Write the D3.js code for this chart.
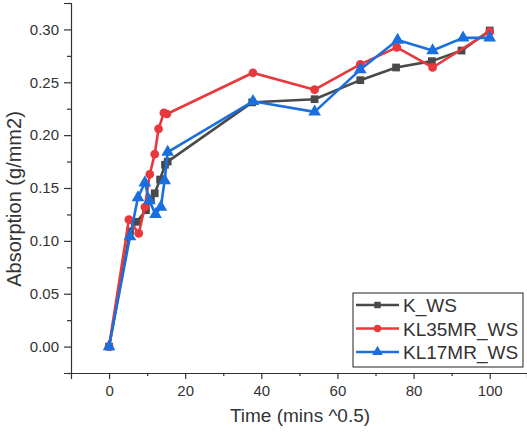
<!DOCTYPE html>
<html>
<head>
<meta charset="utf-8">
<script src="https://cdn.jsdelivr.net/npm/d3@7"></script>
<style>
  body { margin: 0; background: #fff; }
  svg text { font-family: "Liberation Sans", Arial, sans-serif; fill: #333; }
</style>
</head>
<body>
<svg id="chart" width="527" height="432"></svg>
<script>
// values
const kwsTime = [0, 5.5, 7.3, 9.7, 11, 12, 13.4, 14.7, 15.4, 37.6, 54, 66, 75.4, 84.8, 92.6, 100];
const kwsAbs = [0, 0.109, 0.118, 0.129, 0.139, 0.145, 0.158, 0.172, 0.175, 0.231, 0.234, 0.252, 0.264, 0.270, 0.280, 0.299];

const kl35Time = [0, 5.2, 7.8, 9.4, 10.7, 12, 13, 14.4, 15.2, 37.8, 54, 66, 75.6, 85, 100];
const kl35Abs = [0, 0.120, 0.107, 0.132, 0.163, 0.182, 0.206, 0.221, 0.220, 0.259, 0.243, 0.267, 0.283, 0.264, 0.298];

const kl17Time = [0, 5.5, 7.6, 9.4, 10.6, 12.2, 13.6, 14.6, 15.4, 37.8, 54, 66, 75.8, 85, 93, 100];
const kl17Abs = [0, 0.104, 0.141, 0.155, 0.138, 0.125, 0.132, 0.157, 0.184, 0.232, 0.222, 0.262, 0.290, 0.280, 0.292, 0.292];

const seriesNames = ["K_WS", "KL35MR_WS", "KL17MR_WS"];
const seriesColors = ["#4a4a4a", "#e8383d", "#1a6fdf"];
const seriesShapes = [d3.symbolSquare, d3.symbolCircle, d3.symbolTriangle];
const seriesSizes = [60, 60, 70];

const xTicks = [0, 20, 40, 60, 80, 100];
const yTicks = [0, 0.05, 0.10, 0.15, 0.20, 0.25, 0.30];

const svg = d3.select("#chart");
const plotLeft = 71, plotRight = 527, plotTop = 3, plotBottom = 373;

const x = d3.scaleLinear().domain([-10, 109.8]).range([plotLeft, plotRight]);
const y = d3.scaleLinear().domain([-0.025, 0.325]).range([plotBottom, plotTop]);

const series = [
  kwsTime.map((t, i) => ({ t, v: kwsAbs[i] })),
  kl35Time.map((t, i) => ({ t, v: kl35Abs[i] })),
  kl17Time.map((t, i) => ({ t, v: kl17Abs[i] })),
];

// axes
svg.append("g").attr("transform", `translate(0,${plotBottom})`)
  .call(d3.axisBottom(x).tickValues(xTicks).tickFormat(d3.format("d")).tickSize(6).tickPadding(6));
svg.append("g").attr("transform", `translate(0,${plotBottom})`)
  .call(d3.axisBottom(x).tickValues(d3.range(10, 110, 20)).tickFormat("").tickSize(3))
  .select(".domain").remove();

svg.append("g").attr("transform", `translate(${plotLeft},0)`)
  .call(d3.axisLeft(y).tickValues(yTicks).tickFormat(d3.format(".2f")).tickSize(7).tickPadding(5));
svg.append("g").attr("transform", `translate(${plotLeft},0)`)
  .call(d3.axisLeft(y).tickValues(d3.range(-0.025, 0.33, 0.05)).tickFormat("").tickSize(4))
  .select(".domain").remove();

svg.selectAll(".domain, .tick line").attr("stroke", "#333").attr("stroke-width", 1.2);
svg.selectAll(".tick text").attr("font-size", 15).attr("fill", "#333");

svg.append("text")
  .attr("x", (plotLeft + plotRight) / 2 + 1).attr("y", 422)
  .attr("text-anchor", "middle").attr("font-size", 19)
  .text("Time (mins ^0.5)");

svg.append("text")
  .attr("transform", `translate(21,${(plotTop + plotBottom) / 2 + 11}) rotate(-90)`)
  .attr("text-anchor", "middle").attr("font-size", 20)
  .text("Absorption (g/mm2)");

// lines and markers
const line = d3.line().x((d) => x(d.t)).y((d) => y(d.v));

series.forEach((data, k) => {
  const g = svg.append("g");
  g.append("path")
    .datum(data)
    .attr("d", line)
    .attr("fill", "none")
    .attr("stroke", seriesColors[k])
    .attr("stroke-width", 2.6)
    .attr("stroke-linejoin", "round");
  g.selectAll("path.pt")
    .data(data)
    .join("path")
    .attr("class", "pt")
    .attr("transform", (d) => `translate(${x(d.t)},${y(d.v)})`)
    .attr("d", d3.symbol().type(seriesShapes[k]).size(seriesSizes[k]))
    .attr("fill", seriesColors[k]);
});

// legend
const legend = svg.append("g").attr("transform", "translate(353,293)");
legend.append("rect")
  .attr("width", 170).attr("height", 74)
  .attr("fill", "#fff").attr("stroke", "#222").attr("stroke-width", 1);

seriesNames.forEach((name, k) => {
  const row = legend.append("g").attr("transform", `translate(0,${12 + k * 23.5})`);
  row.append("line")
    .attr("x1", 3).attr("x2", 46)
    .attr("stroke", seriesColors[k]).attr("stroke-width", 2.6);
  row.append("path")
    .attr("transform", "translate(24.5,0)")
    .attr("d", d3.symbol().type(seriesShapes[k]).size(seriesSizes[k] * 0.7))
    .attr("fill", seriesColors[k]);
  row.append("text")
    .attr("x", 50).attr("y", 7)
    .attr("font-size", 19).attr("fill", "#111")
    .text(name);
});
</script>
</body>
</html>
